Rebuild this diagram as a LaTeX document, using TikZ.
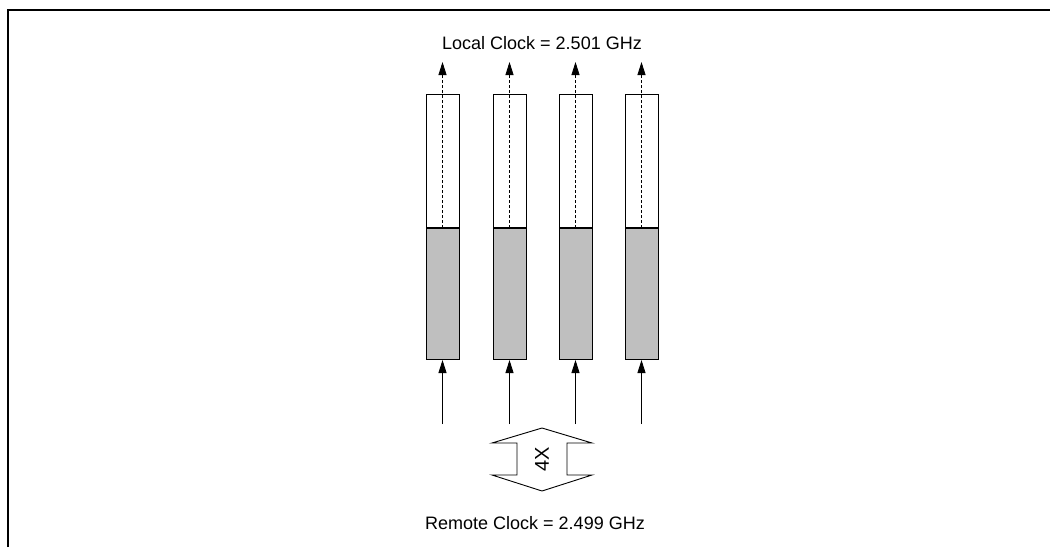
\documentclass[tikz,border=0pt]{standalone}
\usepackage{fontspec}
\setmainfont{Liberation Sans}
\usetikzlibrary{arrows.meta}
\tikzset{
  upper/.style={draw, fill=white, line width=1pt, minimum width=33pt, minimum height=133pt, inner sep=0pt, anchor=north},
  lower/.style={draw, fill=black!25, line width=1pt, minimum width=33pt, minimum height=131pt, inner sep=0pt, anchor=north},
  tip/.style={-{Triangle[width=8pt,length=13pt]}},
  clk/.style={font=\fontsize{18}{21}\selectfont, inner sep=0pt},
  frame/.style={line width=1.7pt}
}
\begin{document}
\begin{tikzpicture}[x=1pt,y=-1pt]
\useasboundingbox (0,0) rectangle (1050,547);
\draw[frame] (8,547) -- (8,10) -- (1050,10);
\foreach \i/\x in {1/442.5,2/509.5,3/575.5,4/641.5}{
  \node[upper] (u\i) at (\x,94) {};
  \node[lower] (g\i) at (u\i.south) {};
  \coordinate (t\i) at (\x,62);
  \coordinate (b\i) at (\x,424);
  \draw[tip, dashed, line width=0.8pt, dash pattern=on 3pt off 2pt] (u\i.south) -- (t\i);
  \draw[tip, line width=0.9pt] (b\i) -- (g\i.south);
}
\node[clk] (local) at (542,43) {Local Clock = 2.501 GHz};
\node[clk] (remote) at (535,523) {Remote Clock = 2.499 GHz};
\draw[line width=0.9pt] (542,428) -- (592,443) -- (567,443) -- (567,475) -- (592,475) -- (542,491)
  -- (492,475) -- (517,475) -- (517,443) -- (492,443) -- cycle;
\node[clk, font=\fontsize{20}{22}\selectfont, rotate=90] (four) at (542,459) {4X};
\end{tikzpicture}
\end{document}
